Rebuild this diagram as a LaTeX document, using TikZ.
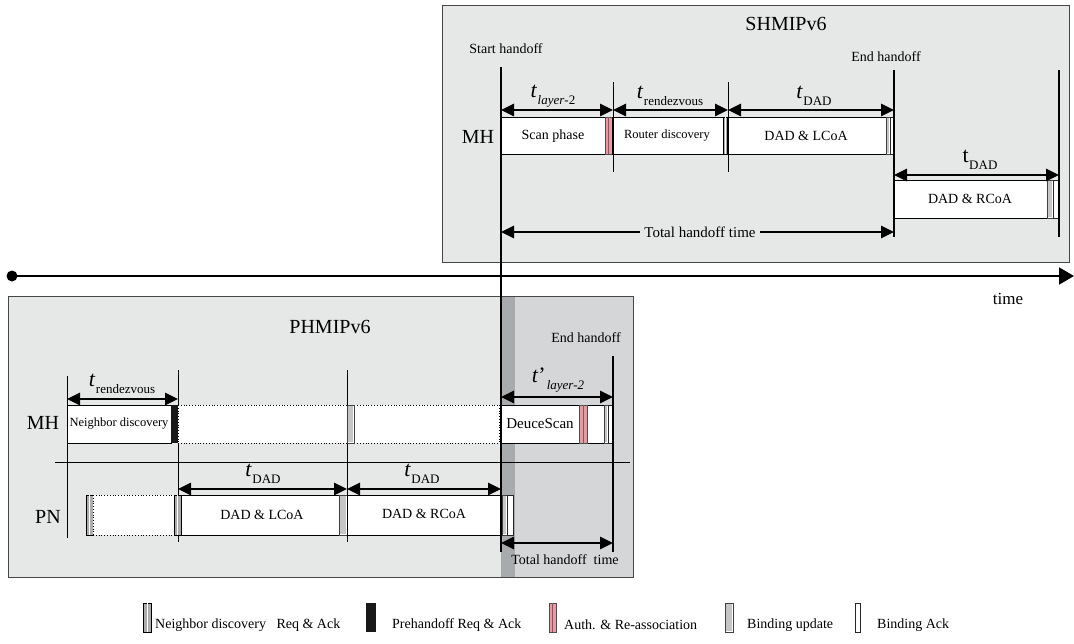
\documentclass[tikz,border=0pt]{standalone}
\usepackage{fontspec}
\setmainfont{Liberation Serif}
\usetikzlibrary{arrows.meta}
\definecolor{bgA}{RGB}{230,231,231}
\definecolor{bgB}{RGB}{212,214,215}
\definecolor{bgC}{RGB}{168,171,173}
\definecolor{frm}{RGB}{70,70,70}
\definecolor{pnk}{RGB}{238,150,162}
\newcommand\fs[1]{\fontsize{#1}{#1}\selectfont}
\newcommand\tsub[1]{\textit{t}\kern0.5pt\raisebox{-0.3em}{\fs{13}#1}}
\newcommand\tupr[1]{t\kern0.5pt\raisebox{-0.3em}{\fs{13}#1}}
% strips: x1 x2 ytop ybot
\newcommand\ndS[4]{\fill[gray!65] (#1,#3) rectangle (#2,#4);
  \draw[line width=0.6pt] (#1,#3) rectangle (#2,#4);
  \draw[white, line width=0.7pt] ({(#1+#2)/2},#3) -- ({(#1+#2)/2},#4);}
\newcommand\phS[4]{\fill[black!90] (#1,#3) rectangle (#2,#4);}
\newcommand\auS[4]{\fill[pnk] (#1,#3) rectangle (#2,#4);
  \draw[black!70, line width=0.6pt] (#1,#3) rectangle (#2,#4);
  \draw[black!60, line width=0.5pt] ({(#1+#2)/2},#3) -- ({(#1+#2)/2},#4);}
\newcommand\buS[4]{\fill[white] (#1,#3) rectangle (#2,#4);
  \draw[black!75, line width=0.6pt] (#1,#3) rectangle (#2,#4);
  \fill[gray!45] ({#1+1.3},{#3+0.8}) rectangle ({#2-1.3},{#4-0.8});}
\newcommand\baS[4]{\fill[white] (#1,#3) rectangle (#2,#4);
  \draw[black!85, line width=0.6pt] (#1,#3) rectangle (#2,#4);}
\tikzset{
  panel/.style={draw=frm, line width=0.9pt},
  dim/.style={{Triangle[length=13pt,width=12pt]}-{Triangle[length=13pt,width=12pt]}, line width=2.8pt},
  vline/.style={line width=1.8pt},
  tickline/.style={line width=0.7pt},
  whitebox/.style={fill=white, draw=black, line width=0.7pt},
  dotbox/.style={draw=black, line width=0.8pt, dotted},
  lbl/.style={font=\fs{14}},
  small/.style={font=\fs{12.5}},
  big/.style={font=\fs{20}},
  tlabel/.style={font=\fs{22}},
  leg/.style={font=\fs{14}, anchor=west, inner sep=0pt}
}
\begin{document}
\begin{tikzpicture}[x=1pt,y=-1pt]
\useasboundingbox (0,0) rectangle (1074,643);
% ================= SHMIPv6 panel
\draw[panel, fill=bgA] (442,5) rectangle (1069,262);
\node[big] (sht) at (786,24) {SHMIPv6};
\node[lbl] (sst) at (506,49) {Start handoff};
\node[lbl] (sen) at (886,57) {End handoff};
\node[big] (smh) at (478,137) {MH};
% boxes
\draw[whitebox] (501,117) rectangle (605,154);
\node[lbl] (scan) at (553,136) {Scan phase};
\auS{605}{612}{117}{154}
\draw[whitebox] (612,117) rectangle (723,154);
\node[small] (rdisc) at (667,136) {Router discovery};
\ndS{723}{727}{117}{154}
\draw[whitebox] (727,117) rectangle (886,154);
\node[lbl] (lcoa1) at (806,136) {DAD \& LCoA};
\buS{886}{890}{117}{154}
\baS{890}{894}{117}{154}
\draw[whitebox] (894,180) rectangle (1047,218);
\node[lbl] (rcoa1) at (970,199) {DAD \& RCoA};
\buS{1047}{1053}{180}{218}
\baS{1053}{1059}{180}{218}
% vertical lines
\coordinate (sA) at (501,110);
\coordinate (sB) at (613,110);
\coordinate (sC) at (728,110);
\coordinate (sD) at (894,110);
\draw[tickline] (613,82) -- (613,172);
\draw[tickline] (728,82) -- (728,172);
\draw[vline] (894,70) -- (894,237);
\draw[vline] (1059,70) -- (1059,237);
% dimension arrows
\draw[dim] (sA) -- (sB);
\draw[dim] (sB) -- (sC);
\draw[dim] (sC) -- (sD);
\node[tlabel] (tl2) at (553,96) {\tsub{\textit{layer}-2}};
\node[tlabel] (trv) at (670,96) {\tsub{rendezvous}};
\node[tlabel] (tdd) at (814,96) {\tsub{DAD}};
\coordinate (sE) at (894,175);
\coordinate (sF) at (1059,175);
\draw[dim] (sE) -- (sF);
\node[tlabel] (tdd2) at (980,160) {\tupr{DAD}};
\coordinate (sG) at (501,232);
\coordinate (sH) at (894,232);
\draw[dim] (sG) -- (sH);
\node[font=\fs{15}, fill=bgA, inner sep=4pt] (tot1) at (700,232) {Total handoff time};
% ================= time axis
\coordinate (t0) at (12,276);
\coordinate (t1) at (1074,276);
\fill (t0) circle (5.5);
\draw[line width=2pt, -{Triangle[length=15pt,width=17pt]}] (t0) -- (t1);
\node[font=\fs{17}] (time) at (1008,299) {time};
% ================= PHMIPv6 panel
\fill[bgA] (8,296) rectangle (633,577);
\fill[bgB] (515,296) rectangle (633,577);
\fill[bgC] (501,296) rectangle (515,577);
\draw[panel] (8,296) rectangle (633,577);
\node[big] (pht) at (330,327) {PHMIPv6};
\node[big] (pmh) at (43,423) {MH};
\node[big] (ppn) at (48,517) {PN};
\draw[tickline] (67,376) -- (67,538);
\draw[tickline] (178,370) -- (178,542);
\draw[tickline] (347,370) -- (347,542);
\draw[tickline] (55,462) -- (630,462);
% MH row
\draw[whitebox] (67,405) rectangle (171,443);
\node[small] (nd) at (119,424) {Neighbor discovery};
\phS{171}{178}{405}{443}
\fill[white] (178,405) rectangle (500,443);
\draw[dotbox] (178,405) -- (500,405);
\draw[dotbox] (178,443) -- (500,443);
\draw[dotbox] (178.5,405) -- (178.5,443);
\draw[dotbox] (499.5,405) -- (499.5,443);
\buS{347}{354}{405}{443}
\draw[whitebox] (501,405) rectangle (612,443);
\node[font=\fs{15}] (dsc) at (540,424) {DeuceScan};
\auS{579}{587}{405}{443}
\buS{604}{608}{405}{443}
\baS{608}{612}{405}{443}
% PN row
\ndS{86}{93}{495}{535}
\fill[white] (93,495) rectangle (174,535);
\draw[dotbox] (93,495) -- (174,495);
\draw[dotbox] (93,535) -- (174,535);
\draw[dotbox] (93.5,495) -- (93.5,535);
\ndS{174}{181}{495}{535}
\draw[whitebox] (181,495) rectangle (339,535);
\node[lbl] (lcoa2) at (262,515) {DAD \& LCoA};
\buS{339}{347}{495}{535}
\draw[whitebox] (347,495) rectangle (502,535);
\node[lbl] (rcoa2) at (424,514) {DAD \& RCoA};
\buS{502}{507}{495}{535}
\baS{507}{513}{495}{535}
% lines
\draw[vline] (501,67) -- (501,552);
\node[lbl] (pen) at (586,338) {End handoff};
\draw[vline] (613,356) -- (613,552);
% arrows
\coordinate (pA) at (67,399);
\coordinate (pB) at (178,399);
\draw[dim] (pA) -- (pB);
\node[tlabel] (ptr) at (122,384) {\tsub{rendezvous}};
\coordinate (pC) at (178,489);
\coordinate (pD) at (347,489);
\coordinate (pE) at (501,489);
\draw[dim] (pC) -- (pD);
\draw[dim] (pD) -- (pE);
\node[tlabel] (ptd1) at (263,474) {\tsub{DAD}};
\node[tlabel] (ptd2) at (422,474) {\tsub{DAD}};
\coordinate (pF) at (501,397);
\coordinate (pG) at (613,397);
\draw[dim] (pF) -- (pG);
\node[tlabel] (pt2) at (558,380) {\textit{t}’\kern1pt\raisebox{-0.3em}{\fs{13}\textit{layer-2}}};
\coordinate (pH) at (501,543);
\coordinate (pI) at (613,543);
\draw[dim] (pH) -- (pI);
\node[lbl] (tot2) at (565,560) {Total handoff\ \ time};
% ================= legend
\ndS{143}{151}{603}{632}
\node[leg] (l1) at (155,625) {Neighbor discovery\ \ \ Req \& Ack};
\phS{366}{376}{603}{632}
\node[leg] (l2) at (392,625) {Prehandoff Req \& Ack};
\auS{549}{556}{603}{632}
\node[leg] (l3) at (564,625) {Auth. \& Re-association};
\buS{725}{733}{603}{632}
\node[leg] (l4) at (747,625) {Binding update};
\baS{855}{860}{603}{632}
\node[leg] (l5) at (877,625) {Binding Ack};
\end{tikzpicture}
\end{document}
